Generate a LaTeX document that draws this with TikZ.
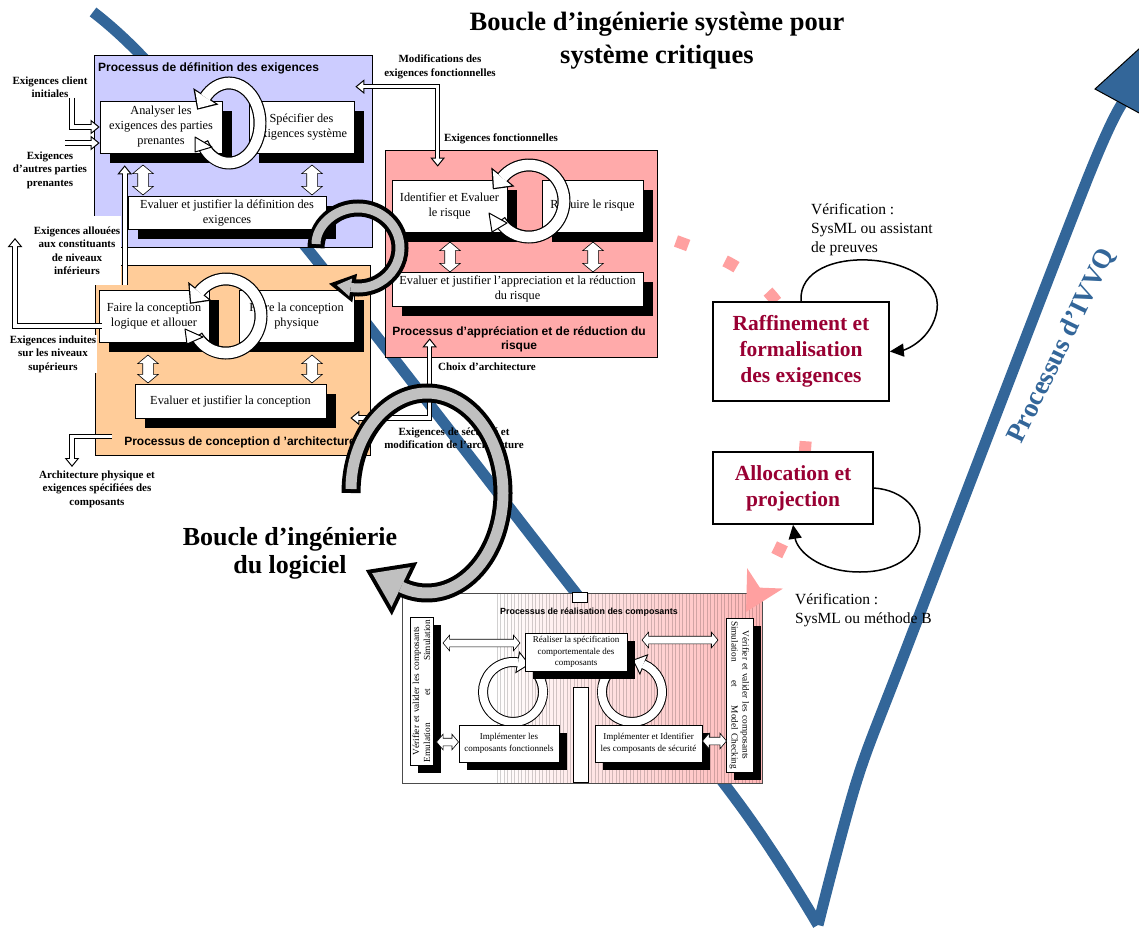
\documentclass[tikz,border=0pt]{standalone}
\usepackage{fontspec}
\setmainfont{Liberation Serif}
\setsansfont{Liberation Sans}
\usetikzlibrary{arrows.meta,calc,shapes.arrows,shadows,decorations.markings}
\definecolor{vblue}{RGB}{51,102,153}
\definecolor{lavender}{RGB}{204,204,255}
\definecolor{peach}{RGB}{255,204,153}
\definecolor{rose}{RGB}{255,170,170}
\definecolor{salmon}{RGB}{255,160,160}
\definecolor{wine}{RGB}{153,0,51}
\definecolor{ringgrey}{RGB}{192,192,192}
\tikzset{
  proc/.style={draw, line width=0.7pt, inner sep=0pt},
  ptitle/.style={font=\sffamily\bfseries\fontsize{12}{14}\selectfont, inner sep=0pt, align=center},
  act/.style={draw, fill=white, line width=0.6pt, align=center, inner sep=1pt,
    font=\fontsize{12.3}{15}\selectfont,
    general shadow={fill=black, shadow xshift=10pt, shadow yshift=-10pt}},
  sact/.style={draw, fill=white, line width=0.6pt, align=center, inner sep=1pt,
    font=\fontsize{9}{11.5}\selectfont,
    general shadow={fill=black, shadow xshift=8pt, shadow yshift=-8pt}},
  vtxt/.style={align=center, inner sep=0pt, font=\fontsize{9.3}{11}\selectfont},
  lbl/.style={font=\bfseries\fontsize{11}{13.5}\selectfont, align=center, inner sep=1pt},
  big/.style={font=\bfseries\fontsize{26.5}{33}\selectfont, align=center},
  aim/.style={draw, line width=1.6pt, fill=white, align=center, text=wine,
    font=\bfseries\fontsize{21.5}{26}\selectfont},
  verif/.style={font=\fontsize{15.5}{19}\selectfont, align=left, inner sep=0pt},
  dbl/.style={double arrow, draw, fill=white, line width=0.6pt, inner xsep=0pt, inner ysep=5pt,
    double arrow head extend=5pt, double arrow tip angle=100},
  sdbl/.style={dbl, inner ysep=3.5pt, double arrow head extend=4pt},
  holo/.style={line width=5.6pt, line join=miter},
  holi/.style={line width=3.6pt, white, line join=miter},
  tipo/.tip={Triangle[length=9pt,width=14pt]},
  tipi/.tip={Triangle[length=6.2pt,width=9.6pt]},
  vline/.style={line width=11pt, vblue},
  vloop/.style={line width=1.5pt, -{Triangle[length=14pt,width=13pt]}},
  pinkpath/.style={salmon, line width=12pt, dash pattern=on 13pt off 40pt,
    -{Stealth[length=38pt,width=40pt,inset=10pt]}},
  stripe/.style={line width=0.4pt, black, opacity=0.18},
  bar/.style={draw, fill=white, line width=0.6pt, inner sep=0pt},
  tailtri/.style={fill=white, draw, line width=1pt, line join=round},
  % ring bands: outline stroke then fill stroke, head drawn at the end
  grey out/.style={line width=17pt, black, postaction={decorate, decoration={markings,
    mark=at position 1 with {\fill[black] (-4,-14.5) -- (22,0) -- (-4,14.5) -- cycle;}}}},
  grey in/.style={line width=9pt, ringgrey, shorten <=4pt, postaction={decorate, decoration={markings,
    mark=at position 1 with {\fill[ringgrey] (0,-9) -- (14,0) -- (0,9) -- cycle;}}}},
  bgrey out/.style={line width=19pt, black, postaction={decorate, decoration={markings,
    mark=at position 1 with {\fill[black] (-4,-29.6) -- (39,0) -- (-4,29.6) -- cycle;}}}},
  bgrey in/.style={line width=11pt, ringgrey, shorten <=4pt, postaction={decorate, decoration={markings,
    mark=at position 1 with {\fill[ringgrey] (0,-22) -- (32,0) -- (0,22) -- cycle;}}}},
  wring out/.style={line width=13pt, black, postaction={decorate, decoration={markings,
    mark=at position 1 with {\fill[black] (-1.2,-15) -- (14.8,0) -- (-1.2,15) -- cycle;}}}},
  wring in/.style={line width=10.6pt, white, shorten <=1.2pt, postaction={decorate, decoration={markings,
    mark=at position 1 with {\fill[white] (0,-12) -- (13,0) -- (0,12) -- cycle;}}}},
  sring out/.style={line width=10pt, black, postaction={decorate, decoration={markings,
    mark=at position 1 with {\fill[black] (-1,-11.3) -- (11.5,0) -- (-1,11.3) -- cycle;}}}},
  sring in/.style={line width=8pt, white, shorten <=1pt, postaction={decorate, decoration={markings,
    mark=at position 1 with {\fill[white] (0,-9) -- (10,0) -- (0,9) -- cycle;}}}},
}
\newcommand{\hollowarrow}[1]{\draw[holo,-tipo] #1; \draw[holi,shorten >=1.8pt,-tipi] #1;}
\newcommand{\hollowpair}[1]{\draw[holo,tipo-tipo] #1;
  \draw[holi,shorten <=1.8pt,shorten >=1.8pt,tipi-tipi] #1;}
% centre, x radius, y radius, start angle, end angle, kind
\newcommand{\ringarrow}[6]{%
  \draw[#6 out] ($(#1)+(#4:#2 and #3)$) arc[start angle=#4, end angle=#5, x radius=#2, y radius=#3];
  \draw[#6 in] ($(#1)+(#4:#2 and #3)$) arc[start angle=#4, end angle=#5, x radius=#2, y radius=#3];}

\begin{document}
\begin{tikzpicture}[x=1pt, y=-1pt]
  \useasboundingbox (0,0) rectangle (1139,928);

  % V of the IVVQ process
  \draw[vline] plot[smooth, tension=0.5] coordinates {(93,12) (150,65) (310,252) (540,547) (740,805) (818,925)};
  \draw[vline] plot[smooth, tension=0.5] coordinates {(818,925) (857,780) (907,647) (1087,180) (1125,100)};
  \filldraw[fill=vblue, draw=black, line width=1pt] (1095,89) -- (1162,28) -- (1152,120) -- cycle;
  \node[rotate=64, font=\bfseries\fontsize{27}{30}\selectfont, text=vblue] (ivvq) at (1062,346) {Processus d’IVVQ};

  % process containers
  \node[proc, fill=lavender, minimum width=278pt, minimum height=192pt] (defproc) at (233,151) {};
  \node[proc, fill=peach, minimum width=275pt, minimum height=190pt] (concproc) at (232.5,360) {};
  \node[proc, fill=rose, minimum width=272pt, minimum height=207pt] (riskproc) at (521,253.5) {};
  \node[ptitle, anchor=west] (deftitle) at (98,68) {Processus de définition des exigences};
  \node[ptitle] (conctitle) at (240,442) {Processus de conception d 'architecture};
  \node[ptitle] (risktitle) at (519,339) {Processus d'appréciation et de réduction du\\risque};

  % activities
  \node[act, minimum width=122pt, minimum height=52pt] (analyser) at (161,127) {Analyser les\\exigences des parties\\prenantes};
  \node[act, minimum width=105pt, minimum height=52pt] (specifier) at (301.5,127) {Spécifier des\\exigences système};
  \node[act, minimum width=198pt, minimum height=33pt] (evaldef) at (227,212.5) {Evaluer et justifier la définition des\\exigences};
  \node[act, minimum width=110pt, minimum height=52pt] (conclog) at (154,316) {Faire la conception\\logique et allouer};
  \node[act, minimum width=115pt, minimum height=52pt] (concphy) at (296.5,316) {Faire la conception\\physique};
  \node[act, minimum width=191pt, minimum height=34pt] (evalconc) at (230.5,401) {Evaluer et justifier la conception};
  \node[act, minimum width=115pt, minimum height=52pt] (identrisk) at (449.5,206) {Identifier et Evaluer\\le risque};
  \node[act, minimum width=101pt, minimum height=52pt] (redrisk) at (592.5,206) {Réduire le risque};
  \node[act, minimum width=251pt, minimum height=34pt] (evalrisk) at (517.5,289) {Evaluer et justifier l'appreciation et la réduction\\du risque};

  \node[dbl, rotate=90, minimum height=30pt] (dd1) at (143,180) {};
  \node[dbl, rotate=90, minimum height=30pt] (dd2) at (312,180) {};
  \node[dbl, rotate=90, minimum height=28pt] (dc1) at (148,369) {};
  \node[dbl, rotate=90, minimum height=28pt] (dc2) at (312,369) {};
  \node[dbl, rotate=90, minimum height=30pt] (dr1) at (450,257) {};
  \node[dbl, rotate=90, minimum height=30pt] (dr2) at (593,257) {};

  \ringarrow{229,123}{31}{40}{150}{-140}{wring}
  \ringarrow{226,316}{35}{37}{147}{-140}{wring}
  \ringarrow{529,201}{35}{36}{147}{-140}{wring}
  \filldraw[tailtri] (195,137) -- (212,147) -- (195,152) -- cycle;
  \filldraw[tailtri] (185,329) -- (203,337) -- (187,344) -- cycle;
  \filldraw[tailtri] (489,213) -- (507,223) -- (492,232) -- cycle;

  % flows in and out
  \node[lbl] (client) at (50,87) {Exigences client\\initiales};
  \node[lbl] (autres) at (50,170) {Exigences\\d’autres parties\\prenantes};
  \node[lbl, fill=white, minimum height=69pt, anchor=north] (allouees) at (77,216) {Exigences allouées\\aux constituants\\de niveaux\\inférieurs};
  \node[lbl, fill=white] (induites) at (53,354) {Exigences induites\\sur les niveaux\\supérieurs};
  \node[lbl] (archphys) at (97,489) {Architecture physique et\\exigences spécifiées des\\composants};
  \node[lbl] (modifs) at (440,67) {Modifications des\\exigences fonctionnelles};
  \node[lbl] (exfonc) at (501,139) {Exigences fonctionnelles};
  \node[lbl] (choix) at (487,367) {Choix d’architecture};
  \node[lbl] (secu) at (454,438) {Exigences de sécurité et\\modification de l’architecture};

  \hollowarrow{(72,98) -- (72,127) -- (analyser.west)}
  \hollowarrow{(65,143) -- ($(analyser.west)+(0,16)$)}
  \hollowarrow{($(conclog.north west)+(26,-5)$) -- ($(analyser.south west)+(25,12)$)}
  \hollowarrow{($(conclog.west)+(3,10)$) -| (15,238)}
  \hollowarrow{($(concproc.south west)+(17,-19)$) -| (72,467)}
  \hollowpair{($(defproc.north east)+(-17,32)$) -| ($(riskproc.north west)+(53,17)$)}
  \hollowpair{($(riskproc.south west)+(45,-19)$) |- ($(concproc.east)+(-20,58)$)}

  % component realisation
  \node[draw, fill=white, line width=0.6pt, minimum width=93pt, minimum height=190pt] (realleft) at (448.5,688) {};
  \shade[left color=white, right color=rose!85] (495,593) rectangle (762,783);
  \foreach \sx in {497,500.5,...,760}
    \draw[stripe] (\sx,593) -- (\sx,783);
  \node[draw, black!70, line width=0.5pt, minimum width=360pt, minimum height=190pt] (realproc) at (582,688) {};
  \node[ptitle, font=\sffamily\bfseries\fontsize{8.9}{11}\selectfont, anchor=west] (realtitle) at (500,612) {Processus de réalisation des composants};

  \ringarrow{513,692}{30}{30}{-35}{280}{sring}
  \ringarrow{632,692}{30}{30}{215}{-68}{sring}

  \node[sact, minimum width=102pt, minimum height=38pt] (realspec) at (576,652) {Réaliser la spécification\\comportementale des\\composants};
  \node[sact, minimum width=100pt, minimum height=37pt] (implfct) at (509,743.5) {Implémenter les\\composants fonctionnels};
  \node[sact, minimum width=107pt, minimum height=37pt] (implsec) at (648.5,743.5) {Implémenter et Identifier\\les composants de sécurité};
  \node[sact, minimum width=23pt, minimum height=148pt] (verifl) at (421.5,691) {};
  \node[vtxt, rotate=90, text width=142pt] (verifltxt) at (verifl) {Vérifier et valider les composants\\Emulation\hfill et\hfill Simulation};
  \node[sact, minimum width=27pt, minimum height=154pt] (verifr) at (739.5,695) {};
  \node[vtxt, rotate=-90, text width=148pt] (verifrtxt) at (verifr) {Vérifier et valider les composants\\Simulation\hfill et\hfill Model Checking};
  \node[bar, minimum width=15pt, minimum height=95pt] (gap) at (580.5,734.5) {};
  \node[bar, minimum width=15pt, minimum height=10pt] (notch) at (579.5,597) {};

  \node[sdbl, minimum height=77pt] (dl1) at (481.5,643) {};
  \node[sdbl, minimum height=76pt] (dl2) at (680,640) {};
  \node[sdbl, minimum height=22pt] (dl3) at (447.5,742) {};
  \node[sdbl, minimum height=24pt] (dl4) at (714.5,741) {};

  % refinement path
  \draw[pinkpath] plot[smooth, tension=0.6] coordinates {(676,241) (731,264) (771,295) (797,340) (806,393) (805,450) (797,505) (779,551) (746,612)};

  \node[aim, minimum width=176pt, minimum height=99pt] (raffin) at (801,351.5) {Raffinement et\\formalisation\\des exigences};
  \node[aim, minimum width=160pt, minimum height=72pt] (alloc) at (793,488) {Allocation et\\projection};
  \draw[vloop] (raffin.north) .. controls (797,240) and (945,250) .. (937,310) .. controls (932,340) and (905,350) .. (raffin.east);
  \draw[vloop] (alloc.east) .. controls (935,492) and (940,572) .. (860,572) .. controls (818,572) and (797,550) .. (alloc.south);
  \node[verif, anchor=north west] (verif1) at (811,203) {Vérification :\\SysML ou assistant\\de preuves};
  \node[verif, anchor=north west] (verif2) at (795,593) {Vérification :\\SysML ou méthode B};

  % engineering loops
  \ringarrow{358,248}{42}{40}{180}{460}{grey}
  \ringarrow{427,493}{76}{100}{180}{470}{bgrey}

  \node[big] (title) at (657,41) {Boucle d’ingénierie système pour\\système critiques};
  \node[big, font=\bfseries\fontsize{26}{28}\selectfont] (swloop) at (290,553) {Boucle d’ingénierie\\du logiciel};
\end{tikzpicture}
\end{document}
